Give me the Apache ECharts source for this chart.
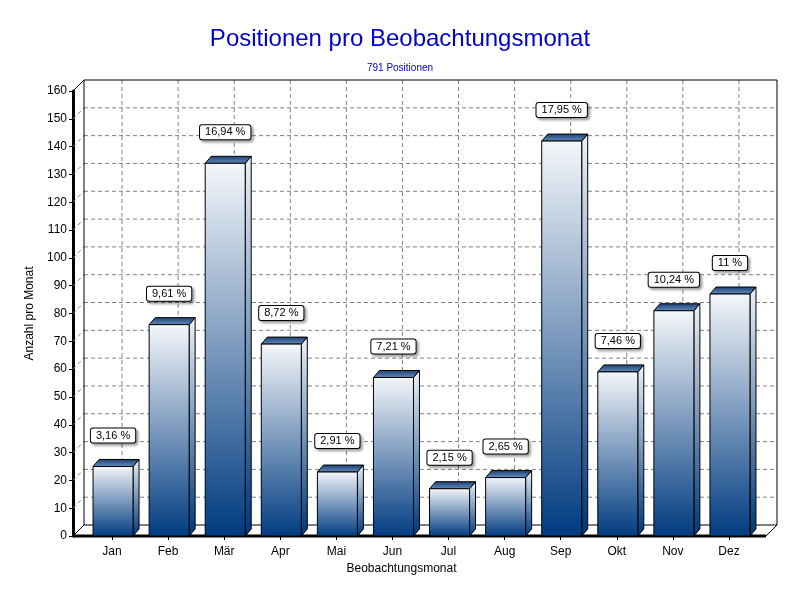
<!DOCTYPE html>
<html>
<head>
<meta charset="utf-8">
<script src="https://cdn.jsdelivr.net/npm/echarts@6/dist/echarts.min.js"></script>
<style>html,body{margin:0;padding:0;background:#fff}#c{width:800px;height:600px}</style>
</head>
<body>
<div id="c"></div>
<script>
const categories = ['Jan','Feb','Mär','Apr','Mai','Jun','Jul','Aug','Sep','Okt','Nov','Dez'];
const counts = [25,76,134,69,23,57,17,21,142,59,81,87];
const percentLabels = ['3,16 %','9,61 %','16,94 %','8,72 %','2,91 %','7,21 %','2,15 %','2,65 %','17,95 %','7,46 %','10,24 %','11 %'];
const yMin = 0, yMax = 160, yStep = 10;
const titleText = 'Positionen pro Beobachtungsmonat';
const subtitleText = '791 Positionen';
const yAxisName = 'Anzahl pro Monat';
const xAxisName = 'Beobachtungsmonat';

const FONT = '"Liberation Sans", Arial, sans-serif';
const WALL_D = 11;       // depth of back wall
const BAR_DX = 6, BAR_DY = 7, BAR_W = 40;
const dash = [4, 3];

const chart = echarts.init(document.getElementById('c'), null, {renderer: 'canvas'});

function frontGrad() {
  return new echarts.graphic.LinearGradient(0, 0, 0, 1, [
    {offset: 0, color: '#f5f7fa'}, {offset: 1, color: '#003b80'}]);
}
function sideGrad() {
  return new echarts.graphic.LinearGradient(0, 0, 0, 1, [
    {offset: 0, color: '#eef2f7'}, {offset: 1, color: '#003574'}]);
}
function topGrad() {
  return new echarts.graphic.LinearGradient(0, 0, 0, 1, [
    {offset: 0, color: '#173d72'}, {offset: 1, color: '#6a8fc0'}]);
}

function renderWall(params, api) {
  const cs = params.coordSys;
  const left = cs.x, right = cs.x + cs.width + 9;
  const children = [];
  const backL = left, backR = right + WALL_D;
  const yTop = api.coord([0, yMax])[1] - WALL_D;
  const yBot = api.coord([0, yMin])[1] - WALL_D;
  const frontY0 = api.coord([0, yMin])[1];
  const axisX = left - WALL_D;
  children.push({type: 'rect', shape: {x: backL, y: yTop, width: backR - backL, height: yBot - yTop},
    style: {fill: '#fff', stroke: null}});
  for (let v = yMin + yStep; v < yMax; v += yStep) {
    const py = api.coord([0, v])[1];
    children.push({type: 'line', shape: {x1: backL, y1: py - WALL_D, x2: backR, y2: py - WALL_D},
      style: {stroke: '#808080', lineWidth: 1, lineDash: dash}});
    children.push({type: 'line', shape: {x1: axisX, y1: py, x2: backL, y2: py - WALL_D},
      style: {stroke: '#808080', lineWidth: 1, lineDash: dash}});
  }
  for (let i = 0; i < categories.length; i++) {
    const px = api.coord([i, 0])[0] + WALL_D - 1;
    children.push({type: 'line', shape: {x1: px, y1: yTop, x2: px, y2: yBot},
      style: {stroke: '#808080', lineWidth: 1, lineDash: dash}});
  }
  children.push({type: 'polyline', shape: {points: [[backL, yBot], [backL, yTop], [backR, yTop], [backR, yBot]]},
    style: {stroke: '#000', lineWidth: 1, fill: null}});
  const p160 = api.coord([0, yMax])[1];
  children.push({type: 'line', shape: {x1: axisX, y1: p160, x2: backL, y2: yTop},
    style: {stroke: '#000', lineWidth: 1}});
  children.push({type: 'polygon', shape: {points: [[axisX, frontY0], [right, frontY0], [backR, yBot], [backL, yBot]]},
    style: {fill: '#fff', stroke: '#000', lineWidth: 1}});
  children.push({type: 'line', shape: {x1: axisX, y1: frontY0, x2: right, y2: frontY0},
    style: {stroke: '#000', lineWidth: 3}});
  return {type: 'group', children: children};
}

function renderBar(params, api) {
  const idx = api.value(0);
  const val = api.value(1);
  const base = api.coord([idx, 0]);
  const top = api.coord([idx, val]);
  const x0 = top[0] - BAR_W / 2 + 1, x1 = x0 + BAR_W;
  const yt = top[1], yb = base[1];
  return {
    type: 'group',
    children: [
      {type: 'polygon', shape: {points: [[x1, yt], [x1 + BAR_DX, yt - BAR_DY], [x1 + BAR_DX, yb - BAR_DY], [x1, yb]]},
        style: {fill: sideGrad(), stroke: '#000', lineWidth: 1}},
      {type: 'polygon', shape: {points: [[x0, yt], [x0 + BAR_DX, yt - BAR_DY], [x1 + BAR_DX, yt - BAR_DY], [x1, yt]]},
        style: {fill: topGrad(), stroke: '#000', lineWidth: 1}},
      {type: 'rect', shape: {x: x0, y: yt, width: BAR_W, height: yb - yt},
        style: {fill: frontGrad(), stroke: '#000', lineWidth: 1}},
      {type: 'text', x: top[0] + 1, y: yt - 31,
        style: {text: percentLabels[params.dataIndex], align: 'center', verticalAlign: 'middle',
          font: '11px ' + FONT, fill: '#000', backgroundColor: '#fff', borderColor: '#000', borderWidth: 1,
          borderRadius: 2, padding: [2, 5, 1, 5],
          shadowColor: 'rgba(0,0,0,0.35)', shadowBlur: 3, shadowOffsetX: 2, shadowOffsetY: 2}}
    ]
  };
}

chart.setOption({
  animation: false,
  backgroundColor: '#fff',
  title: {
    text: titleText, subtext: subtitleText, left: 'center', top: 22, itemGap: 12,
    textStyle: {fontFamily: FONT, fontSize: 24, fontWeight: 'normal', color: '#0000d0'},
    subtextStyle: {fontFamily: FONT, fontSize: 10, color: '#0000d0'}
  },
  grid: {left: 84, right: 43, top: 91, bottom: 64},
  xAxis: {
    type: 'category', data: categories,
    name: xAxisName, nameLocation: 'middle', nameGap: 26,
    nameTextStyle: {fontFamily: FONT, fontSize: 12, color: '#000', padding: [0, 38, 0, 0]},
    axisLine: {show: false},
    axisTick: {show: true, alignWithLabel: true, length: 4, lineStyle: {color: '#000'}},
    axisLabel: {fontFamily: FONT, fontSize: 12, color: '#000', margin: 10},
    splitLine: {show: false}
  },
  yAxis: {
    type: 'value', min: yMin, max: yMax, interval: yStep, offset: WALL_D,
    name: yAxisName, nameLocation: 'middle', nameGap: 34,
    nameTextStyle: {fontFamily: FONT, fontSize: 12, color: '#000'},
    axisLine: {show: true, lineStyle: {color: '#000', width: 3}},
    axisTick: {show: true, length: 4, lineStyle: {color: '#000'}},
    axisLabel: {fontFamily: FONT, fontSize: 12, color: '#000', margin: 6},
    splitLine: {show: false}
  },
  series: [
    {type: 'custom', z: 1, clip: false, silent: true, renderItem: renderWall, data: [[0, 0]]},
    {type: 'custom', z: 3, clip: false, renderItem: renderBar,
      data: counts.map((v, i) => [i, v])}
  ]
});
</script>
</body>
</html>
